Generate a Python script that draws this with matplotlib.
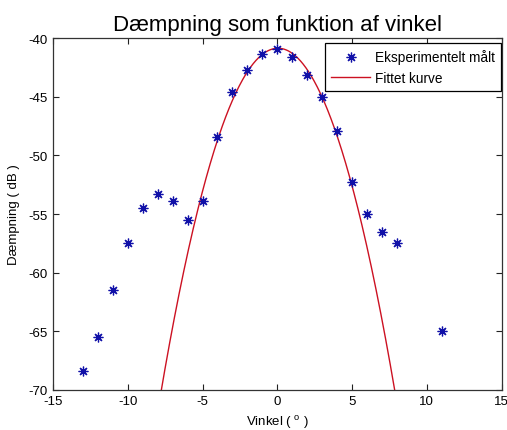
import numpy as np
import matplotlib
matplotlib.use("Agg")
import matplotlib.pyplot as plt

# Data
angle = [-13, -12, -11, -10, -9, -8, -7, -6, -5, -4, -3, -2, -1, 0, 1, 2, 3, 4, 5, 6, 7, 8, 11]
damping = [-68.4, -65.5, -61.5, -57.5, -54.5, -53.3, -53.9, -55.5, -53.9, -48.4, -44.6,
           -42.7, -41.3, -40.9, -41.6, -43.1, -45.0, -47.9, -52.3, -55.0, -56.5, -57.5, -65.0]
# Quadratic fit coefficients (highest power first)
fit_coeffs = [-0.479, 0.048, -40.85]

title = "Dæmpning som funktion af vinkel"
xlabel = r"Vinkel ( $^{\mathrm{o}}$ )"
ylabel = "Dæmpning ( dB )"
legend_labels = ["Eksperimentelt målt", "Fittet kurve"]

plt.rcParams['font.family'] = ['Liberation Sans', 'DejaVu Sans']
plt.rcParams['mathtext.fontset'] = 'custom'
plt.rcParams['mathtext.rm'] = 'Liberation Sans'
plt.rcParams['axes.unicode_minus'] = False

fig = plt.figure(figsize=(5.07, 4.31), dpi=100)
ax = fig.add_axes([53 / 507, 1 - 390.7 / 431, 448.5 / 507, 351.4 / 431])

ax.plot(angle, damping, linestyle='none', marker=(8, 2, 0), markersize=7,
        markeredgewidth=0.9, color='#1010a8', label=legend_labels[0], zorder=3)

xf = np.linspace(-9, 9, 400)
ax.plot(xf, np.polyval(fit_coeffs, xf), color='#cc1122', linewidth=1.0,
        label=legend_labels[1], zorder=2)

ax.set_xlim(-15, 15)
ax.set_ylim(-70, -40)
ax.set_xticks(np.arange(-15, 16, 5))
ax.set_yticks(np.arange(-70, -39, 5))
ax.tick_params(direction='in', top=True, right=True, labelsize=9.5, length=4,
               colors='#222222', labelcolor='black', pad=4)
for s in ax.spines.values():
    s.set_color('#333333')
    s.set_linewidth(0.9)

ax.set_title(title, fontsize=16, pad=6)
ax.set_xlabel(xlabel, fontsize=9.5, labelpad=4)
ax.set_ylabel(ylabel, fontsize=9.5, labelpad=6)

leg = ax.legend(loc='upper right', bbox_to_anchor=(0.999, 1 - 5 / 351.4),
                borderaxespad=0, fontsize=9.8, fancybox=False, framealpha=1,
                edgecolor='black', handlelength=2.9, borderpad=0.45,
                labelspacing=0.5, handletextpad=0.35)
leg.get_frame().set_linewidth(0.9)

fig.savefig("out.png", dpi=100)
